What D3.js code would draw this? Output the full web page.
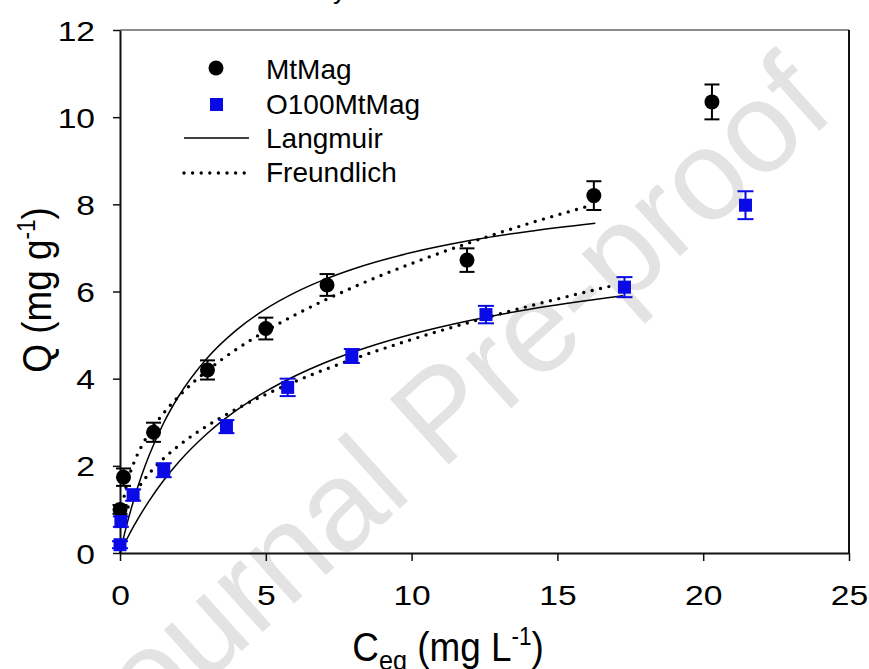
<!DOCTYPE html>
<html>
<head>
<meta charset="utf-8">
<script src="https://cdn.jsdelivr.net/npm/d3@7"></script>
<style>
  html, body { margin: 0; padding: 0; background: #fff; }
  svg { display: block; font-family: "Liberation Sans", Arial, sans-serif; }
</style>
</head>
<body>
<svg id="chart" width="869" height="669"></svg>
<script>
// ---- data ----
const xTicks = [0, 5, 10, 15, 20, 25];
const yTicks = [0, 2, 4, 6, 8, 10, 12];

const mtC   = [0.0, 0.12, 1.15, 3.0, 5.0, 7.1, 11.9, 16.25, 20.3];
const mtQ   = [1.0, 1.74, 2.77, 4.2, 5.15, 6.15, 6.72, 8.2, 10.35];
const mtErr = [0.1, 0.2, 0.22, 0.22, 0.25, 0.25, 0.27, 0.33, 0.4];

const oC    = [0.0, 0.03, 0.45, 1.5, 3.65, 5.75, 7.95, 12.55, 17.3, 21.45];
const oQ    = [0.19, 0.72, 1.33, 1.9, 2.9, 3.8, 4.52, 5.47, 6.1, 7.98];
const oErr  = [0.08, 0.12, 0.13, 0.16, 0.15, 0.2, 0.16, 0.2, 0.23, 0.32];

// fitted model curves, read as points
const mtLangC = [0, 0.1, 0.25, 0.5, 0.75, 1, 1.5, 2, 3, 4, 5, 6, 7, 8, 10, 12, 14, 16.3];
const mtLangQ = [0, 0.289, 0.690, 1.281, 1.793, 2.241, 2.988, 3.585, 4.481, 5.121, 5.601, 5.975, 6.273, 6.517, 6.893, 7.169, 7.379, 7.568];
const mtFreuC = [0.03, 0.07, 0.15, 0.3, 0.5, 0.75, 1, 1.5, 2, 3, 4, 5, 6, 7, 8, 10, 12, 14, 16.0];
const mtFreuQ = [0.718, 0.99, 1.330, 1.734, 2.109, 2.463, 2.75, 3.212, 3.586, 4.189, 4.677, 5.094, 5.462, 5.794, 6.098, 6.643, 7.123, 7.556, 7.947];
const oLangC  = [0, 0.1, 0.25, 0.5, 1, 1.5, 2, 3, 4, 5, 6, 7, 8, 10, 12, 14, 17.25];
const oLangQ  = [0, 0.139, 0.339, 0.649, 1.198, 1.669, 2.076, 2.748, 3.278, 3.707, 4.061, 4.359, 4.612, 5.021, 5.337, 5.588, 5.901];
const oFreuC  = [0.1, 0.2, 0.35, 0.5, 0.75, 1, 1.5, 2, 3, 4, 5, 6, 7, 8, 10, 12, 14, 17.0];
const oFreuQ  = [0.679, 0.915, 1.163, 1.355, 1.612, 1.824, 2.170, 2.456, 2.922, 3.306, 3.638, 3.934, 4.203, 4.451, 4.898, 5.296, 5.659, 6.150];

const legendLabels = ["MtMag", "O100MtMag", "Langmuir", "Freundlich"];

// ---- drawing ----
const svg = d3.select("#chart");
const L = 120, R = 849, T = 30, B = 553;
const x = d3.scaleLinear().domain([0, 25]).range([L, R]);
const y = d3.scaleLinear().domain([0, 12]).range([B, T]);
const blue = "#0a0ae6";
const FONT = "Liberation Sans, Arial, sans-serif";

// watermark
svg.append("text")
  .attr("transform", "translate(440,412) rotate(-42)")
  .attr("text-anchor", "middle")
  .attr("dy", "0.35em")
  .attr("font-size", 128)
  .attr("fill", "#e3e3e3")
  .text("Journal Pre-proof");

// cropped caption fragment at the very top
svg.append("text").attr("x", 333).attr("y", -1).attr("font-size", 26).attr("fill", "#000").text("y");

// frame (top & right)
svg.append("line").attr("x1", L).attr("x2", R).attr("y1", T).attr("y2", T).attr("stroke", "#666").attr("stroke-width", 1.5);
svg.append("line").attr("x1", R).attr("x2", R).attr("y1", T).attr("y2", B).attr("stroke", "#111").attr("stroke-width", 2);

// axes
const xAxis = svg.append("g").attr("transform", `translate(0,${B})`)
  .call(d3.axisBottom(x).tickValues(xTicks).tickSize(8).tickSizeOuter(0).tickFormat(d3.format("d")));
xAxis.select(".domain").attr("stroke", "#111").attr("stroke-width", 2);
xAxis.selectAll(".tick line").attr("stroke", "#111").attr("stroke-width", 1.5);
xAxis.selectAll(".tick text").attr("y", 52).attr("dy", null).attr("font-size", 28).attr("fill", "#000")
  .attr("font-family", FONT).attr("transform", "scale(1.2,1)");

const yAxis = svg.append("g").attr("transform", `translate(${L},0)`)
  .call(d3.axisLeft(y).tickValues(yTicks).tickSize(7).tickSizeOuter(0).tickPadding(18).tickFormat(d3.format("d")));
yAxis.select(".domain").attr("stroke", "#111").attr("stroke-width", 2);
yAxis.selectAll(".tick line").attr("stroke", "#111").attr("stroke-width", 1.5);
yAxis.selectAll(".tick text").attr("x", -25 / 1.2).attr("dy", "0.36em").attr("font-size", 28).attr("fill", "#000")
  .attr("font-family", FONT).attr("transform", "scale(1.2,1)");

// axis titles
const xt = svg.append("text").attr("transform", "translate(448,661) scale(0.9,1)")
  .attr("text-anchor", "middle").attr("font-size", 41).attr("fill", "#000");
xt.append("tspan").text("C");
xt.append("tspan").attr("font-size", 28).attr("dy", 9).text("eq");
xt.append("tspan").attr("dy", -9).text(" (mg L");
xt.append("tspan").attr("font-size", 25).attr("dy", -16).text("-1");
xt.append("tspan").attr("dy", 16).text(")");

const yt = svg.append("text").attr("transform", "translate(51,290) rotate(-90) scale(0.9,1)")
  .attr("text-anchor", "middle").attr("font-size", 41).attr("fill", "#000");
yt.append("tspan").text("Q (mg g");
yt.append("tspan").attr("font-size", 25).attr("dy", -16).text("-1");
yt.append("tspan").attr("dy", 16).text(")");

// curves
const line = d3.line().x(d => x(d[0])).y(d => y(d[1])).curve(d3.curveMonotoneX);
const zip = (a, b) => a.map((v, i) => [v, b[i]]);
const solid = g => g.attr("fill", "none").attr("stroke", "#000").attr("stroke-width", 1.5);
const dotted = g => g.attr("fill", "none").attr("stroke", "#000").attr("stroke-width", 3.4)
  .attr("stroke-linecap", "round").attr("stroke-dasharray", "0 8.6");

svg.append("path").attr("d", line(zip(mtLangC, mtLangQ))).call(solid);
svg.append("path").attr("d", line(zip(oLangC, oLangQ))).call(solid);
svg.append("path").attr("d", line(zip(mtFreuC, mtFreuQ))).call(dotted);
svg.append("path").attr("d", line(zip(oFreuC, oFreuQ))).call(dotted);

// error bars + markers
function errBars(C, Q, E, color, cap) {
  const g = svg.append("g").attr("stroke", color).attr("stroke-width", 2);
  C.forEach((c, i) => {
    const cx = x(c), y1 = y(Q[i] + E[i]), y2 = y(Q[i] - E[i]);
    g.append("line").attr("x1", cx).attr("x2", cx).attr("y1", y1).attr("y2", y2);
    g.append("line").attr("x1", cx - cap).attr("x2", cx + cap).attr("y1", y1).attr("y2", y1);
    g.append("line").attr("x1", cx - cap).attr("x2", cx + cap).attr("y1", y2).attr("y2", y2);
  });
}
errBars(mtC, mtQ, mtErr, "#000", 7.5);
errBars(oC, oQ, oErr, blue, 8);

svg.append("g").selectAll("circle").data(zip(mtC, mtQ)).join("circle")
  .attr("cx", d => x(d[0])).attr("cy", d => y(d[1])).attr("r", 7.5).attr("fill", "#000");
svg.append("g").selectAll("rect").data(zip(oC, oQ)).join("rect")
  .attr("x", d => x(d[0]) - 6.5).attr("y", d => y(d[1]) - 6.5).attr("width", 13).attr("height", 13).attr("fill", blue);

// legend
const lg = svg.append("g");
const rows = [79, 114, 148, 182];
lg.append("circle").attr("cx", 216).attr("cy", 68).attr("r", 7.5).attr("fill", "#000");
lg.append("rect").attr("x", 210).attr("y", 98).attr("width", 13).attr("height", 13).attr("fill", blue);
lg.append("line").attr("x1", 184).attr("x2", 249).attr("y1", 138).attr("y2", 138).call(solid);
lg.append("line").attr("x1", 184).attr("x2", 249).attr("y1", 173).attr("y2", 173).call(dotted);
lg.selectAll("text.lab").data(legendLabels).join("text").attr("class", "lab")
  .attr("x", 266).attr("y", (d, i) => rows[i]).attr("font-size", 28).attr("fill", "#000").text(d => d);
</script>
</body>
</html>
